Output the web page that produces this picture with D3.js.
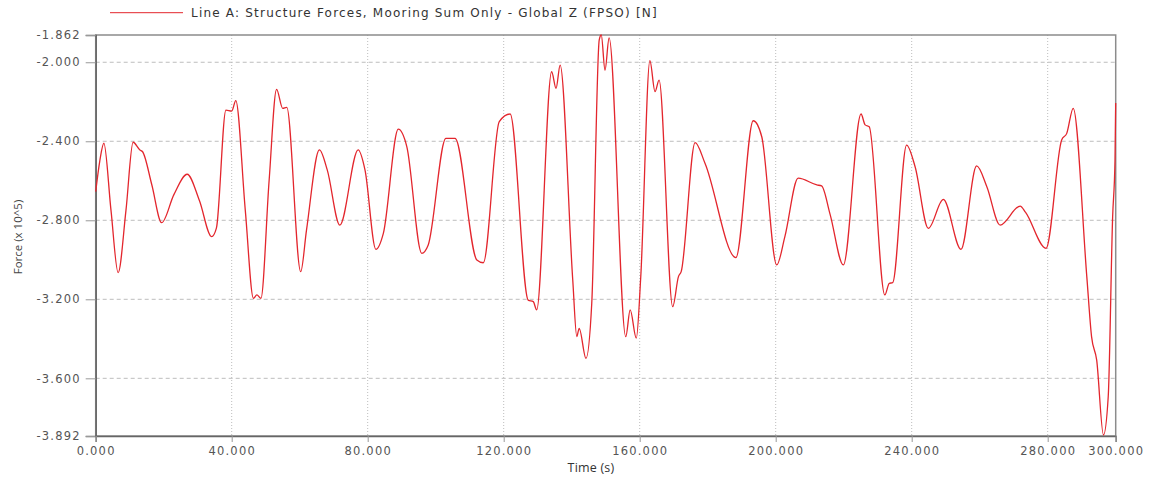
<!DOCTYPE html>
<html>
<head>
<meta charset="utf-8">
<script src="https://cdn.jsdelivr.net/npm/d3@7"></script>
<style>
  body { margin: 0; background: #fff; }
  text { font-family: "DejaVu Sans", sans-serif; }
</style>
</head>
<body>
<svg id="chart" width="1150" height="481"></svg>
<script>
// ---------------------------------------------------------------
// data (time in s, force in x10^5 N)

const time = [0, 1.2, 2.4, 4.5, 6.6, 8.9, 11.0, 13.0, 13.8, 16.5, 19.4, 23.0, 26.9, 30.5, 34.1, 35.5,
  38.3, 40.0, 41.2, 44.0, 46.4, 47.4, 48.6, 51.0, 53.2, 55.0, 56.2, 60.3, 62.0, 65.8, 68.1, 71.8,
  77.2, 79.2, 82.4, 84.6, 89.0, 91.5, 95.9, 97.8, 103.0, 105.7, 112.1, 114.0, 118.7, 121.9,
  127.2, 128.7, 129.7, 134.1, 135.4, 136.6, 140.3, 141.5, 142.2, 144.2, 145.9, 148.1, 148.7,
  149.8, 151.0, 155.9, 157.2, 159.0, 160.3, 163.0, 164.5, 165.7, 169.7, 171.4, 172.2, 176.3,
  179.2, 188.3, 193.4, 195.9, 200.3, 202.7, 206.6, 212.1, 213.5, 216.0, 219.9, 225.1, 226.3,
  227.5, 232.1, 233.4, 234.4, 238.5, 241.0, 244.9, 249.3, 254.5, 259.1, 262.1, 266.0, 271.9,
  273.5, 279.5, 284.1, 285.6, 287.5, 291.5, 292.9, 294.4, 296.4, 297.8, 299.1, 299.8, 300.0];

const force = [-2.655, -2.50, -2.41, -2.75, -3.065, -2.75, -2.405, -2.444, -2.453, -2.62, -2.812,
  -2.67, -2.567, -2.70, -2.883, -2.84, -2.242, -2.247, -2.194, -2.75, -3.195, -3.178, -3.195,
  -2.60, -2.137, -2.233, -2.228, -3.060, -2.85, -2.444, -2.545, -2.824, -2.444, -2.545, -2.947,
  -2.866, -2.339, -2.427, -2.967, -2.925, -2.385, -2.385, -3.001, -3.015, -2.300, -2.262,
  -3.204, -3.212, -3.254, -2.048, -2.132, -2.014, -3.10, -3.389, -3.347, -3.499, -3.22, -1.887,
  -1.862, -2.04, -1.877, -3.389, -3.254, -3.397, -3.09, -1.992, -2.149, -2.09, -3.237, -3.085,
  -3.06, -2.407, -2.511, -2.989, -2.296, -2.377, -3.026, -2.883, -2.587, -2.621, -2.626, -2.77,
  -3.026, -2.262, -2.317, -2.326, -3.178, -3.119, -3.116, -2.419, -2.529, -2.841, -2.694,
  -2.947, -2.525, -2.63, -2.824, -2.728, -2.76, -2.942, -2.393, -2.36, -2.233, -3.085, -3.389,
  -3.507, -3.887, -3.693, -2.782, -2.495, -2.206];

const xTicks = [0, 40, 80, 120, 160, 200, 240, 280, 300];
const yTicks = [-1.862, -2.0, -2.4, -2.8, -3.2, -3.6, -3.892];
const gridX = [40, 80, 120, 160, 200, 240, 280];
const gridY = [-2.0, -2.4, -2.8, -3.2, -3.6];

const seriesName = "Line A: Structure Forces, Mooring Sum Only - Global Z (FPSO) [N]";

// ---------------------------------------------------------------

const svg = d3.select("#chart");
const plotL = 95.7, plotR = 1115.7, plotT = 35, plotB = 436;
const red = "#e3262d";

const x = d3.scaleLinear().domain([0, 300]).range([plotL, plotR]);
const y = d3.scaleLinear().domain([-3.892, -1.862]).range([plotB, plotT]);

// grid
svg.append("g").selectAll("line")
  .data(gridY)
  .join("line")
  .attr("x1", plotL).attr("x2", plotR)
  .attr("y1", d => y(d)).attr("y2", d => y(d))
  .attr("stroke", "#bdbdbd")
  .attr("stroke-dasharray", "4,3");

svg.append("g").selectAll("line")
  .data(gridX)
  .join("line")
  .attr("x1", d => x(d)).attr("x2", d => x(d))
  .attr("y1", plotT).attr("y2", plotB)
  .attr("stroke", "#bdbdbd")
  .attr("stroke-dasharray", "1,2");

// frame
svg.append("rect")
  .attr("x", plotL).attr("y", plotT)
  .attr("width", plotR - plotL).attr("height", plotB - plotT)
  .attr("fill", "none")
  .attr("stroke", "#8c8c8c")
  .attr("stroke-width", 1.5);

// axes
const fmt = d => d.toFixed(3);

const yAxis = svg.append("g")
  .attr("transform", `translate(${plotL},0)`)
  .call(d3.axisLeft(y).tickValues(yTicks).tickFormat(fmt).tickSize(10).tickPadding(5));

const xAxis = svg.append("g")
  .attr("transform", `translate(0,${plotB})`)
  .call(d3.axisBottom(x).tickValues(xTicks).tickFormat(fmt).tickSize(6).tickPadding(5));

[yAxis, xAxis].forEach(a => {
  a.select(".domain").attr("stroke", "#666").attr("stroke-width", 1.5);
  a.selectAll(".tick line").attr("stroke", "#999");
  a.selectAll(".tick text")
    .attr("fill", "#555")
    .style("font-size", "11.5px")
    .style("letter-spacing", "1.2px")
    .style("font-family", "'DejaVu Sans', sans-serif");
});

// series line
const pts = time.map((t, i) => [t, force[i]]);
const line = d3.line()
  .x(d => x(d[0]))
  .y(d => y(d[1]))
  .curve(d3.curveMonotoneX);

svg.append("path")
  .datum(pts)
  .attr("fill", "none")
  .attr("stroke", red)
  .attr("stroke-width", 1.3)
  .attr("stroke-linejoin", "round")
  .attr("d", line);

// legend
svg.append("line")
  .attr("x1", 110).attr("x2", 183)
  .attr("y1", 12.7).attr("y2", 12.7)
  .attr("stroke", red)
  .attr("stroke-width", 1);

svg.append("text")
  .attr("x", 191).attr("y", 17)
  .attr("fill", "#333")
  .style("font-size", "12px")
  .style("letter-spacing", "1.2px")
  .text(seriesName);

// axis titles
svg.append("text")
  .attr("x", 591).attr("y", 472)
  .attr("text-anchor", "middle")
  .attr("fill", "#333")
  .style("font-family", "'Open Sans', sans-serif")
  .style("font-size", "12.5px")
  .style("letter-spacing", "0.2px")
  .text("Time (s)");

svg.append("text")
  .attr("transform", "translate(22,237) rotate(-90)")
  .attr("text-anchor", "middle")
  .attr("fill", "#444")
  .style("font-family", "'Open Sans', sans-serif")
  .style("font-size", "11.5px")
  .text("Force (x 10^5)");
</script>
</body>
</html>
